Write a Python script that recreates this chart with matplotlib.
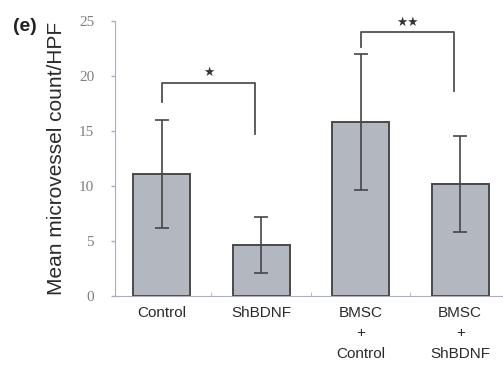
import numpy as np
import matplotlib
matplotlib.use("Agg")
import matplotlib.pyplot as plt

# 데이터
groups = ["Control", "ShBDNF", "BMSC\n+\nControl", "BMSC\n+\nShBDNF"]
means = [11.1, 4.65, 15.8, 10.15]
errs = [4.9, 2.55, 6.2, 4.35]

# 유의성 표시 (왼쪽 막대, 오른쪽 막대, 가로선 높이, 왼쪽 끝, 오른쪽 끝, 표시)
sig_pairs = [(0, 1, 19.4, 17.6, 14.7, "★"), (2, 3, 24.0, 22.6, 18.6, "★★")]

plt.rcParams['font.family'] = ['Liberation Sans', 'DejaVu Sans']

fig = plt.figure(figsize=(5.03, 3.66), dpi=100)
ax = fig.add_axes([0.2286, 0.1913, 0.7714, 0.7514])

x = np.arange(len(groups))
ax.bar(x, means, width=0.57, color="#b3b8c0", edgecolor="#4a4a4a", linewidth=1.4, zorder=2)
ax.errorbar(x, means, yerr=errs, fmt="none", ecolor="#454545", elinewidth=1.2,
            capsize=5, capthick=1.2, zorder=3)

for a, b, h, ya, yb, mark in sig_pairs:
    xa, xb = a, b - 0.06
    ax.plot([xa, xa, xb, xb], [ya, h, h, yb], color="#505050", lw=1.3, clip_on=False, zorder=3)
    ax.text((xa + xb) / 2, h + 0.3, mark, ha="center", va="bottom", fontsize=9,
            color="#333333", family="DejaVu Sans")

ax.set_xlim(-0.47, 3.43)
ax.set_ylim(0, 25)
ax.set_yticks([0, 5, 10, 15, 20, 25])
ax.set_yticklabels(["0", "5", "10", "15", "20", "25"], family="Liberation Serif",
                   fontsize=11, color="#7f7f7f")
ax.tick_params(axis="y", direction="out", length=3, width=1, color="#a8adb8", pad=12)
ax.set_xticks(x)
ax.set_xticklabels(groups, fontsize=11, color="#2a2a2a", linespacing=1.6, va="top")
ax.tick_params(axis="x", length=0, pad=7)
ax.set_xticks([0.5, 1.5, 2.5], minor=True)
ax.tick_params(axis="x", which="minor", direction="in", length=3, color="#a8adb8")

for s in ["top", "right"]:
    ax.spines[s].set_visible(False)
ax.spines["left"].set_color("#a8adb8")
ax.spines["bottom"].set_color("#a8b0c0")

ax.set_ylabel("Mean microvessel count/HPF", fontsize=15, color="#2a2a2a", labelpad=9)
fig.text(0.026, 0.915, "(e)", fontsize=14, fontweight="bold", color="#222222")

fig.savefig("out.png", dpi=100)
